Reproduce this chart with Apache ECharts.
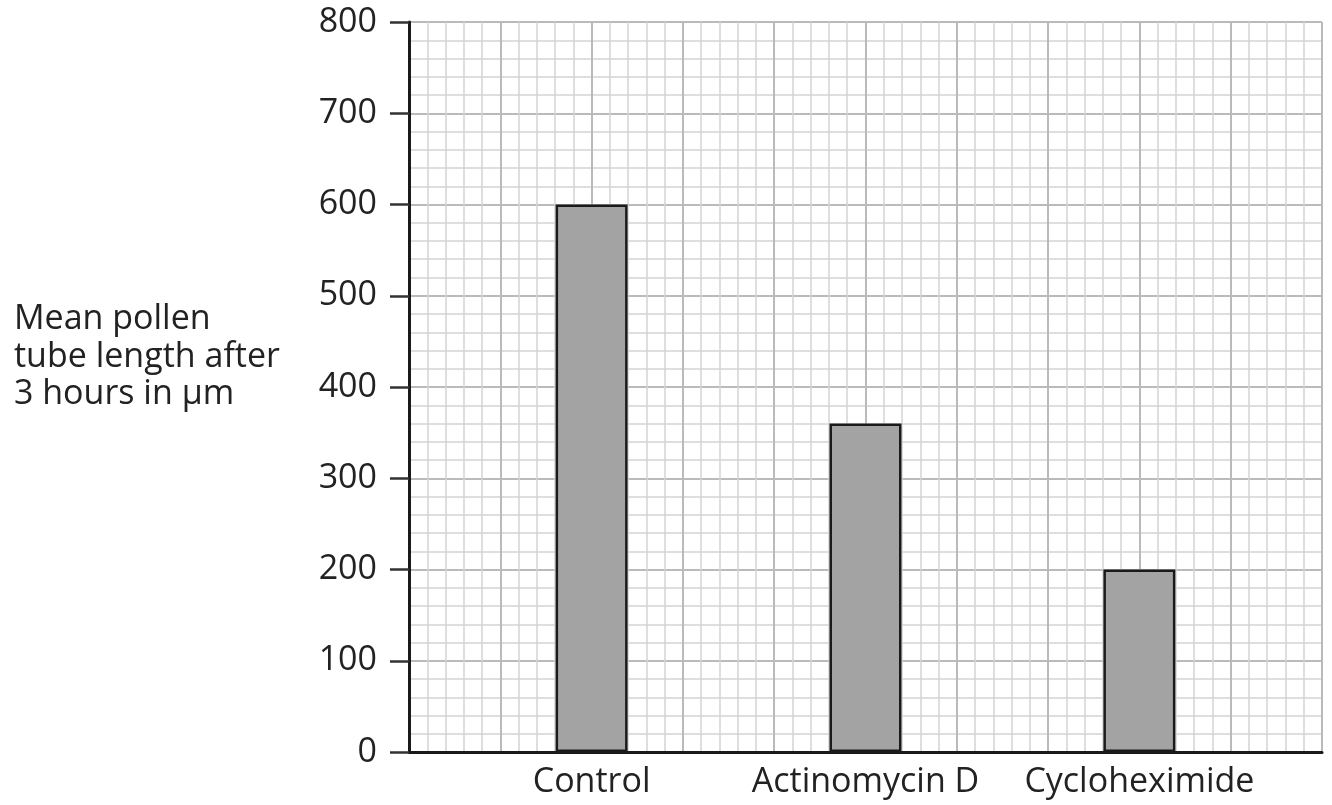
<!DOCTYPE html>
<html>
<head>
<meta charset="utf-8">
<script src="https://cdn.jsdelivr.net/npm/echarts@6/dist/echarts.min.js"></script>
<style>html,body{margin:0;padding:0;background:#fff;}#c{width:1332px;height:805px;}</style>
</head>
<body>
<div id="c"></div>
<script>
const categories = ['Control', 'Actinomycin D', 'Cycloheximide'];
const categoryX = [2, 5, 8];
const values = [600, 360, 200];
const yTicks = [0, 100, 200, 300, 400, 500, 600, 700, 800];
const yTitle = ['Mean pollen', 'tube length after', '3 hours in \u03bcm'];

const chart = echarts.init(document.getElementById('c'), null, {renderer: 'canvas'});
const font = 'Open Sans';
chart.setOption({
  animation: false,
  backgroundColor: '#fff',
  grid: {left: 409, right: 10, top: 22, bottom: 53, containLabel: false},
  xAxis: {
    type: 'value', min: 0, max: 10, interval: 1,
    axisLine: {show: true, onZero: false, lineStyle: {color: '#1a1a1a', width: 3}},
    axisTick: {show: false},
    axisLabel: {
      show: true, margin: 13, fontFamily: font, fontSize: 34, color: '#222',
      showMinLabel: true, showMaxLabel: true,
      formatter: v => { const i = categoryX.indexOf(v); return i >= 0 ? categories[i] : ''; }
    },
    splitLine: {show: true, lineStyle: {color: '#bababa', width: 2}},
    minorTick: {show: false, splitNumber: 5},
    minorSplitLine: {show: true, lineStyle: {color: '#d4d4d4', width: 1.5}}
  },
  yAxis: {
    type: 'value', min: yTicks[0], max: yTicks[yTicks.length - 1], interval: 100,
    axisLine: {show: true, lineStyle: {color: '#1a1a1a', width: 3}},
    axisTick: {show: true, inside: false, length: 19, lineStyle: {color: '#333', width: 2.5}},
    axisLabel: {margin: 32, fontFamily: font, fontSize: 34, color: '#222'},
    splitLine: {show: true, lineStyle: {color: '#bababa', width: 2}},
    minorTick: {show: false, splitNumber: 5},
    minorSplitLine: {show: true, lineStyle: {color: '#d4d4d4', width: 1.5}}
  },
  graphic: [{
    type: 'text', left: 14, top: 301,
    style: {text: yTitle.join('\n'), font: '34px "Open Sans"', fill: '#222', lineHeight: 37.5}
  }],
  series: [{
    type: 'bar',
    barWidth: 72,
    data: categories.map((c, i) => [categoryX[i], values[i]]),
    itemStyle: {color: '#a3a3a3', borderColor: '#1a1a1a', borderWidth: 2.5},
    z: 3
  }]
});
</script>
</body>
</html>
